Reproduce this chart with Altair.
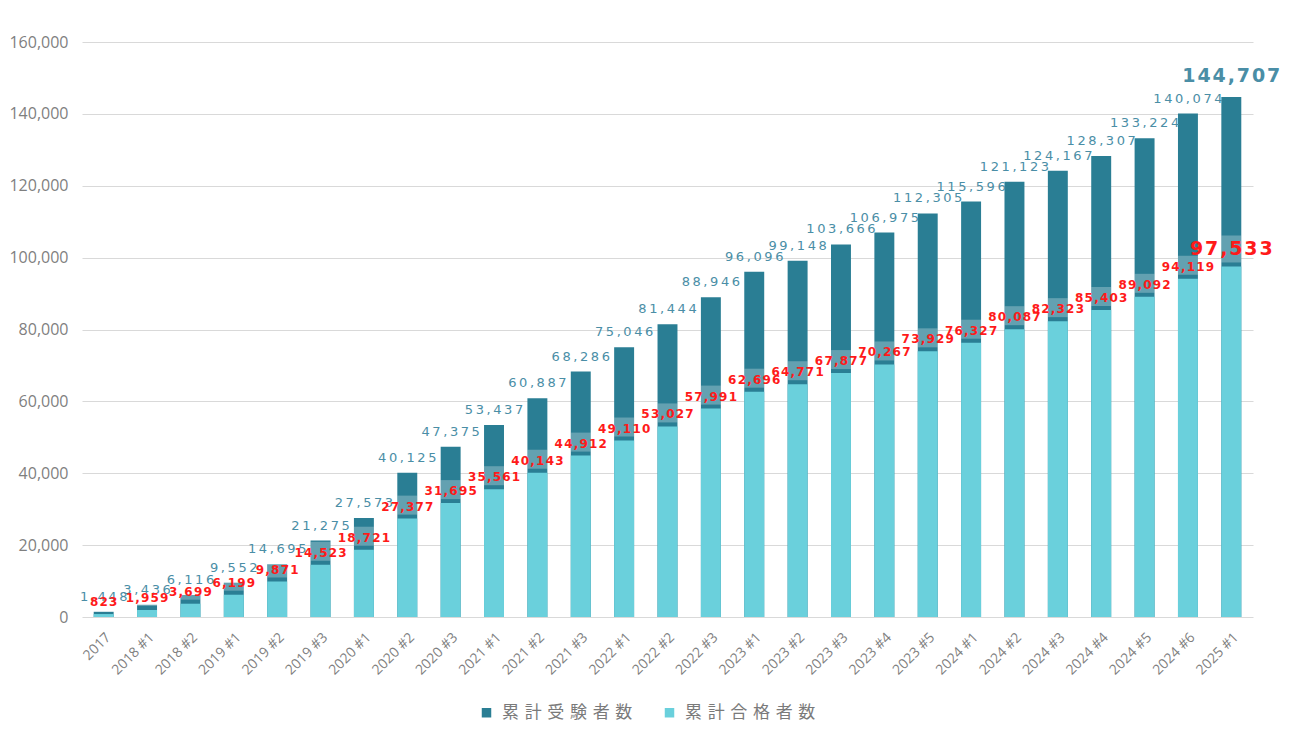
import altair as alt
import pandas as pd

categories = ["2017", "2018 #1", "2018 #2", "2019 #1", "2019 #2", "2019 #3",
              "2020 #1", "2020 #2", "2020 #3", "2021 #1", "2021 #2", "2021 #3",
              "2022 #1", "2022 #2", "2022 #3", "2023 #1", "2023 #2", "2023 #3",
              "2023 #4", "2023 #5", "2024 #1", "2024 #2", "2024 #3", "2024 #4",
              "2024 #5", "2024 #6", "2025 #1"]
examinees = [1448, 3436, 6116, 9552, 14695, 21275, 27573, 40125, 47375, 53437,
             60887, 68286, 75046, 81444, 88946, 96096, 99148, 103666, 106975,
             112305, 115596, 121123, 124167, 128307, 133224, 140074, 144707]
passers = [823, 1959, 3699, 6199, 9871, 14523, 18721, 27377, 31695, 35561,
           40143, 44912, 49110, 53027, 57991, 62696, 64771, 67877, 70267,
           73929, 76327, 80087, 82323, 85403, 89092, 94119, 97533]
series_names = ["累計受験者数", "累計合格者数"]
y_ticks = [0, 20000, 40000, 60000, 80000, 100000, 120000, 140000, 160000]

DARK = "#2a7e94"
LIGHT = "#6ad0dc"
LABEL_TEAL = "#4a8ea6"
RED = "#ff1a1a"
THIN = "\u2009"
HAIR = "\u200a"
THREE_PER_EM = "\u2004"

df = pd.DataFrame({
    "cat": categories,
    series_names[0]: examinees,
    series_names[1]: passers,
    "last": [i == len(categories) - 1 for i in range(len(categories))],
})

base = alt.Chart(df)

x_enc = alt.X("cat:N", sort=categories, title=None,
              scale=alt.Scale(paddingInner=0.54, paddingOuter=0.27),
              axis=alt.Axis(labelAngle=-45, labelFontSize=14, labelColor="#7f7f7f",
                            labelFont="Open Sans", domain=False, ticks=False,
                            labelPadding=13))
y_scale = alt.Scale(domain=[0, 160000], nice=False)
y_axis = alt.Axis(values=y_ticks, format=",.0f", formatType="number", labelFontSize=16,
                  labelColor="#7f7f7f", labelFont="Open Sans",
                  domain=False, ticks=False, labelPadding=14,
                  gridColor="#d9d9d9", gridWidth=1.2)

legend_expr = "replace(datum.label, regexp('(.)(?=.)', 'g'), '$1%s')" % THREE_PER_EM

bars = base.transform_fold(series_names, as_=["series", "value"]).mark_bar().encode(
    x=x_enc,
    y=alt.Y("value:Q", stack=None, scale=y_scale, title=None, axis=y_axis),
    color=alt.Color("series:N", sort=series_names,
                    scale=alt.Scale(domain=series_names, range=[DARK, LIGHT]),
                    legend=alt.Legend(title=None, orient="none", legendX=396, legendY=662,
                                      direction="horizontal", symbolType="square",
                                      symbolSize=90, symbolStrokeWidth=0,
                                      labelFontSize=17, labelFont="Noto Sans CJK JP",
                                      labelColor="#7a7a7a", columnPadding=28,
                                      labelOffset=7, labelExpr=legend_expr,
                                      labelLimit=400)),
)

def band_layer(last, top):
    return base.transform_filter("datum.last" if last else "!datum.last").mark_bar(
        color="white", opacity=0.27, yOffset=-top, y2Offset=-4
    ).encode(
        x=alt.X("cat:N", sort=categories),
        y=alt.Y(series_names[1] + ":Q", scale=y_scale, title=None, axis=y_axis),
        y2=alt.Y2(series_names[1] + ":Q"),
    )

def labels(field, last, color, size, dy, weight, sep):
    expr = "replace(format(datum['%s'], ','), regexp('(.)(?=.)', 'g'), '$1%s')" % (field, sep)
    return base.transform_filter("datum.last" if last else "!datum.last").transform_calculate(
        lab=expr
    ).mark_text(
        font="DejaVu Sans", fontSize=size, fontWeight=weight, color=color,
        dy=dy, baseline="alphabetic", align="center"
    ).encode(
        x=alt.X("cat:N", sort=categories),
        y=alt.Y(field + ":Q", scale=y_scale, title=None, axis=y_axis),
        text=alt.Text("lab:N"),
    )

ex_lab = labels(series_names[0], False, LABEL_TEAL, 13, -11, "normal", THIN)
ex_last = labels(series_names[0], True, LABEL_TEAL, 19, -15, "bold", HAIR)
pa_lab = labels(series_names[1], False, RED, 12, -8, "bold", HAIR)
pa_last = labels(series_names[1], True, RED, 19, -11, "bold", HAIR)

chart = alt.layer(bars, band_layer(False, 23), band_layer(True, 31),
                  ex_lab, ex_last, pa_lab, pa_last).properties(
    width=1171, height=575,
    padding={"left": 0, "top": 26, "right": 10, "bottom": 0},
).configure_view(stroke=None)

chart.save("out.html", embed_options={"renderer": "svg", "actions": False})
